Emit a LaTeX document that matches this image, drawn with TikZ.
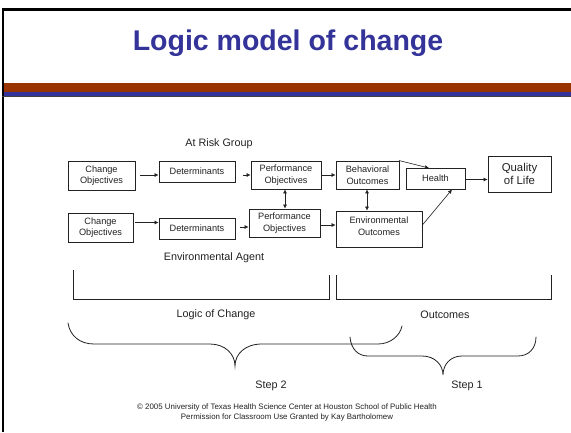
\documentclass[tikz,border=0pt]{standalone}
\usepackage{fontspec}
\setmainfont{Liberation Sans}
\usetikzlibrary{arrows.meta}
\definecolor{ttl}{HTML}{333399}
\definecolor{rust}{HTML}{993300}
\definecolor{ink}{HTML}{222222}
\tikzset{
 x=1pt,y=-1pt,
 bx/.style={draw=ink,line width=0.8pt,fill=white,align=center,font=\fontsize{9.2}{11.7}\selectfont,inner sep=0pt,text=ink},
 lbl/.style={font=\fontsize{10.8}{12}\selectfont,text=ink,inner sep=0pt},
 arr/.style={draw=ink,line width=0.6pt,-{Latex[length=4pt,width=4pt]}},
 dbl/.style={draw=ink,line width=0.6pt,{Latex[length=4pt,width=4pt]}-{Latex[length=4pt,width=4pt]}},
 brk/.style={draw=ink,line width=0.8pt},
}
\newcommand{\mybox}[6]{\node[bx,minimum width=#4-#3,minimum height=#6-#5] (#1) at ({(#3+#4)/2},{(#5+#6)/2}) {#2};}
\begin{document}
\begin{tikzpicture}
\useasboundingbox (0,0) rectangle (571,432);
\fill[white] (0,0) rectangle (571,432);
\fill[rust] (2,83) rectangle (571,92);
\fill[ttl] (2,92) rectangle (571,96);
\draw[black,line width=2.4pt] (2.7,432) -- (2.7,9.5) -- (571,9.5);
\draw[black!75,line width=1.2pt] (2,96.6) -- (571,96.6);
\node[font=\bfseries\fontsize{28.5}{32}\selectfont,text=ttl,inner sep=0pt] (title) at (288,43.5) {Logic model of change};
\mybox{co1}{Change\\Objectives}{68}{135}{161}{190}
\mybox{det1}{Determinants}{159}{235}{161}{182}
\mybox{po1}{Performance\\Objectives}{251}{321}{161}{189}
\mybox{co2}{Change\\Objectives}{68}{133}{213}{242}
\mybox{det2}{Determinants}{159}{235}{218}{239}
\mybox{po2}{Performance\\Objectives}{249}{320}{209}{237}
\mybox{bo}{Behavioral\\Outcomes}{336}{399}{161}{189}
\node[bx,minimum width=86pt,minimum height=36pt,text depth=6pt] (eo) at (379,229) {Environmental\\Outcomes};
\mybox{he}{Health}{406}{465}{168}{189}
\node[bx,font=\fontsize{11.4}{13.3}\selectfont,minimum width=63pt,minimum height=36pt] (qol) at (519.5,174) {Quality\\of Life};
\node[lbl] (risk) at (219,143.5) {At Risk Group};
\node[lbl] (env) at (214,257.5) {Environmental Agent};
\node[lbl] (loc) at (216,315) {Logic of Change};
\node[lbl] (out) at (445,314.5) {Outcomes};
\node[lbl] (s2) at (271,386) {Step 2};
\node[lbl] (s1) at (467,386) {Step 1};
\node[font=\fontsize{7.9}{10}\selectfont,text=ink,align=center,inner sep=0pt] (copy) at (287,412) {© 2005 University of Texas Health Science Center at Houston School of Public Health\\Permission for Classroom Use Granted by Kay Bartholomew};
\draw[arr] (140,175) -- (det1.west |- 0,175);
\draw[arr] (243,175) -- (po1.west |- 0,175);
\draw[arr] (321,175) -- (bo.west |- 0,175);
\draw[arr] (135,222.5) -- (det2.west |- 0,222.5);
\draw[arr] (240,227) -- (po2.west |- 0,227);
\draw[arr] (320,225) -- (eo.west |- 0,225);
\draw[dbl] (po1.south -| 285,0) -- (po2.north -| 285,0);
\draw[dbl] (bo.south -| 367,0) -- (eo.north -| 367,0);
\draw[arr] (399,160.5) -- (429,168);
\draw[arr] (eo.east |- 0,225) -- (452,189.5);
\draw[arr] (he.east |- 0,179.5) -- (qol.west |- 0,179.5);
\draw[brk] (73,270) |- (329,299.5) -- (329,275);
\draw[brk] (336,275) |- (551,299) -- (551,275);
\draw[brk,line cap=round] (68,323) .. controls (70,336) and (80,344) .. (94,344) -- (210,344) .. controls (225,344) and (235,354) .. (235,366) .. controls (235,354) and (245,344) .. (262,344) -- (378,344) .. controls (390,344) and (400,336) .. (402,326);
\draw[brk,line cap=round] (350,337) .. controls (351,349) and (358,356) .. (368,356) -- (422,356) .. controls (435,356) and (443,365) .. (443,375) .. controls (443,365) and (450,356) .. (462,356) -- (518,356) .. controls (529,356) and (536,348) .. (536,337);
\end{tikzpicture}
\end{document}
